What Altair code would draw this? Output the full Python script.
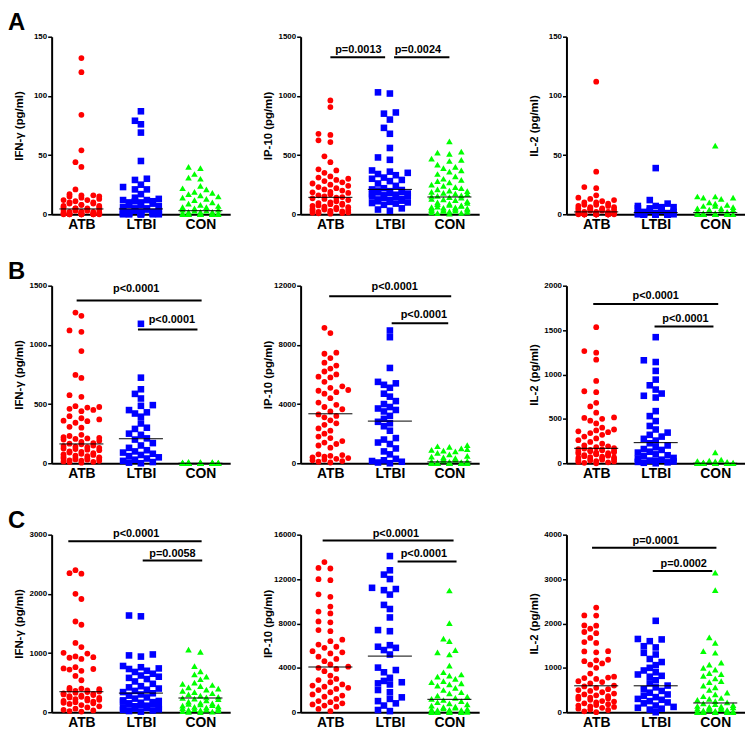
import altair as alt
import pandas as pd
import numpy as np

GROUPS = ["ATB", "LTBI", "CON"]
COLORS = ["#ff0000", "#0000ff", "#00ff00"]
SHAPES = ["circle", "square", "triangle-up"]
SIZES = [34, 44, 44]
FONT = "Liberation Sans"

# ---------------- Row A ----------------
A1_ATB = [132, 120, 84, 54, 44, 40, 21, 17, 16, 16, 15, 15, 14, 13, 12, 12, 11, 10, 10, 9, 9, 8, 8, 7, 7, 6, 6, 5, 5, 5,
          4, 4, 4, 3, 3, 3, 2, 2, 2, 2, 1.5, 1, 1, 1, 1, 0.5, 0.5, 0.5, 0.3, 0.2, 0, 0, 0, 0, 0, 0, 0, 0, 0, 0]
A1_LTBI = [87, 79, 76, 69, 45, 30, 29, 25, 23, 21, 21, 17, 14, 13, 12, 12, 11, 11, 10, 10, 9, 8, 8, 7, 6, 5, 5, 4, 4,
           3, 3, 3, 2, 2, 2, 2, 1, 1, 1, 1, 1, 1, 0.5, 0.5, 0.5, 0.3, 0.2, 0, 0, 0, 0, 0, 0]
A1_CON = [40, 39, 34, 31, 30, 24, 22, 21, 19, 18, 17, 16, 15, 14, 13, 12, 10, 9, 8, 7, 6, 6, 5, 4, 4, 3, 3, 2, 2, 2,
          1, 1, 1, 0.5, 0.5, 0.3, 0, 0, 0, 0, 0, 0, 0, 0, 0, 0, 0, 0]
A2_ATB = [962, 906, 680, 670, 625, 610, 490, 440, 380, 370, 350, 320, 310, 300, 290, 280, 270, 260, 250, 240, 230, 220,
          210, 200, 190, 185, 180, 170, 160, 150, 145, 140, 135, 130, 120, 110, 100, 95, 90, 85, 80, 75, 70, 65, 60, 55,
          50, 45, 42, 40, 35, 30, 28, 25, 20, 18, 15, 12, 10, 8, 5]
A2_LTBI = [1030, 1020, 860, 850, 800, 730, 680, 560, 480, 460, 370, 360, 350, 340, 330, 310, 300, 290, 280, 260, 240,
           220, 210, 205, 200, 195, 190, 185, 180, 175, 170, 165, 160, 155, 150, 145, 140, 130, 125, 120, 115, 110, 105,
           100, 95, 90, 80, 50, 40, 30]
A2_CON = [615, 530, 520, 510, 470, 460, 450, 420, 400, 390, 370, 360, 340, 320, 300, 290, 280, 270, 250, 240, 230, 220,
          210, 200, 195, 190, 180, 175, 170, 160, 155, 150, 145, 140, 130, 125, 120, 110, 100, 95, 90, 85, 80, 75, 70,
          65, 60, 58, 55, 50, 48, 45, 40, 38, 35, 30, 28, 25, 20, 15, 12, 10, 5]
A3_ATB = [112, 36, 23, 22, 16, 14, 13, 12, 11, 10, 10, 9, 8, 8, 7, 7, 6, 6, 5, 5, 5, 4, 4, 4, 3, 3, 3, 2, 2, 2, 2, 1, 1,
          1, 1, 0.5, 0.5, 0, 0, 0, 0, 0, 0, 0, 0, 0, 0, 0, 0, 0, 0, 0, 0, 0, 0, 0, 0, 0, 0, 0]
A3_LTBI = [39, 12, 9, 7, 7, 6, 6, 5, 5, 4, 3, 3, 2, 2, 1, 1, 1, 0.5, 0, 0, 0, 0, 0, 0, 0, 0, 0, 0, 0, 0, 0, 0, 0, 0, 0,
           0, 0, 0, 0, 0]
A3_CON = [58, 15, 15, 14, 14, 13, 10, 9, 8, 7, 7, 6, 5, 5, 4, 4, 3, 3, 2, 2, 1, 1, 0, 0, 0, 0, 0, 0, 0, 0, 0, 0, 0, 0,
          0, 0, 0, 0, 0, 0, 0, 0, 0, 0, 0, 0, 0, 0, 0, 0, 0, 0]

# ---------------- Row B ----------------
B1_ATB = [1273, 1245, 1122, 1110, 948, 746, 721, 575, 561, 482, 475, 470, 460, 450, 440, 398, 380, 370, 360, 355, 342,
          308, 300, 240, 230, 220, 215, 210, 205, 200, 190, 180, 170, 165, 160, 150, 145, 140, 135, 130, 125, 120, 115,
          110, 100, 95, 90, 85, 80, 75, 70, 65, 60, 55, 50, 45, 42, 40, 35, 32, 30, 25, 22, 20, 15, 12, 10, 5]
B1_LTBI = [1178, 723, 625, 586, 547, 491, 485, 449, 430, 420, 393, 336, 300, 290, 250, 240, 210, 200, 170, 150, 130,
           110, 100, 90, 80, 70, 60, 50, 40, 30, 20, 10, 5, 0]
B1_CON = [12, 10, 9, 8, 7, 6, 6, 5, 5, 4, 4, 3, 3, 3, 2, 2, 2, 1, 1, 1, 0, 0, 0, 0, 0, 0, 0, 0, 0, 0, 0, 0, 0, 0, 0, 0,
          0, 0, 0, 0]
B2_ATB = [9150, 8800, 7470, 7400, 7110, 6800, 6600, 6400, 6200, 6000, 5850, 5800, 5500, 5200, 5100, 4950, 4900, 4800,
          4700, 4400, 4100, 3950, 3800, 3650, 3500, 3300, 3200, 3100, 2900, 2700, 2600, 2350, 2200, 2000, 1800, 1700,
          1500, 1400, 1300, 1200, 1050, 600, 550, 500, 450, 400, 350, 300, 250, 200, 150, 100, 50]
B2_LTBI = [8970, 8520, 6440, 5500, 5400, 5300, 5100, 4700, 4500, 4200, 4000, 3800, 3700, 3600, 3500, 3200, 3000, 2800,
           2700, 2500, 2200, 1700, 1600, 1400, 1300, 1000, 800, 600, 300, 200, 150, 100, 50, 0]
B2_CON = [1230, 1150, 1100, 1010, 950, 900, 850, 800, 700, 600, 500, 450, 400, 350, 300, 250, 200, 150, 120, 100, 80,
          60, 50, 40, 30, 20, 10, 5, 0, 0, 0, 0, 0, 0, 0, 0, 0, 0, 0, 0]
B3_ATB = [1533, 1263, 1245, 1166, 927, 811, 800, 680, 640, 570, 516, 510, 500, 480, 449, 400, 380, 370, 360, 350, 340,
          320, 300, 280, 260, 240, 220, 200, 190, 180, 170, 165, 160, 155, 150, 145, 140, 135, 130, 125, 120, 115, 110,
          105, 100, 95, 90, 85, 80, 75, 70, 65, 60, 55, 50, 45, 40, 35, 30, 25, 20, 15, 10, 5, 0]
B3_LTBI = [1420, 1160, 1140, 1040, 942, 878, 830, 785, 760, 740, 587, 531, 475, 420, 380, 345, 320, 300, 275, 255, 225,
           200, 180, 160, 150, 130, 120, 100, 90, 80, 60, 50, 40, 30, 25, 20, 15, 10, 5, 0]
B3_CON = [123, 40, 30, 25, 20, 15, 10, 8, 5, 3, 2, 1, 0, 0, 0, 0, 0, 0, 0, 0, 0, 0, 0, 0, 0, 0, 0, 0, 0, 0, 0, 0, 0, 0,
          0, 0, 0]

# ---------------- Row C ----------------
C1_ATB = [2400, 2350, 2340, 2000, 1913, 1533, 1478, 1171, 1100, 1004, 990, 942, 930, 920, 900, 760, 740, 730, 720, 700,
          613, 540, 410, 400, 390, 380, 370, 360, 350, 340, 330, 320, 310, 300, 290, 280, 270, 260, 250, 240, 230, 220,
          210, 200, 190, 180, 170, 160, 150, 140, 120, 100, 80, 60, 40, 30, 20, 10]
C1_LTBI = [1634, 1620, 976, 960, 940, 781, 760, 740, 730, 700, 680, 650, 620, 600, 580, 560, 520, 480, 440, 420, 400,
           380, 360, 340, 320, 300, 280, 250, 230, 200, 190, 180, 170, 160, 150, 140, 130, 120, 110, 100, 90, 80, 70,
           60, 50, 40, 30, 20, 10]
C1_CON = [1059, 1020, 780, 690, 640, 600, 557, 500, 480, 460, 440, 420, 400, 380, 360, 340, 320, 300, 280, 260, 250,
          240, 230, 220, 200, 180, 160, 150, 140, 130, 120, 110, 100, 90, 80, 70, 60, 50, 45, 40, 35, 30, 20, 10, 5, 0]
C2_ATB = [13530, 13000, 12950, 11990, 11900, 10620, 10400, 9520, 9070, 8900, 8180, 8100, 7400, 7300, 6540, 6400, 6100,
          5900, 5800, 5500, 5400, 5300, 5000, 4800, 4600, 4300, 4100, 4000, 3900, 3700, 3300, 3000, 2900, 2700, 2500,
          2400, 2300, 2200, 2100, 2000, 1800, 1600, 1500, 1400, 1200, 1000, 900, 800, 700, 600, 500, 300, 100]
C2_LTBI = [14070, 12790, 12400, 12000, 11210, 11100, 11000, 10600, 9670, 9300, 8540, 7400, 7300, 6040, 5900, 5800,
           5600, 5200, 4020, 3800, 3600, 3100, 2820, 2700, 2600, 2500, 2000, 1800, 1340, 1200, 1000, 800, 600, 200, 100]
C2_CON = [10970, 8030, 6630, 6400, 5600, 5400, 5200, 4200, 3600, 3400, 3300, 3200, 3000, 2800, 2700, 2600, 2500, 2400,
          2200, 2000, 1800, 1700, 1500, 1400, 1300, 1200, 1100, 1000, 900, 800, 700, 600, 500, 450, 400, 350, 300, 250,
          220, 200, 180, 150, 100, 90, 80, 60, 50, 40, 20, 10, 5, 0, 0]
C3_ATB = [2357, 2180, 2178, 1955, 1950, 1880, 1807, 1780, 1673, 1580, 1560, 1375, 1370, 1350, 1182, 1170, 1150, 1100,
          1070, 1000, 870, 800, 780, 770, 750, 700, 680, 650, 600, 580, 550, 520, 500, 480, 450, 420, 400, 380, 360,
          350, 330, 310, 300, 280, 250, 240, 220, 200, 180, 160, 150, 130, 120, 100, 80, 60, 50, 20, 0]
C3_LTBI = [2059, 1650, 1640, 1600, 1487, 1460, 1338, 1300, 1200, 1130, 1060, 1000, 940, 900, 850, 820, 800, 720, 650,
           600, 560, 520, 480, 440, 400, 370, 340, 300, 280, 250, 220, 200, 150, 120, 100, 80, 60, 0]
C3_CON = [3145, 2751, 1688, 1561, 1375, 1340, 1115, 1070, 1000, 960, 880, 860, 820, 760, 700, 680, 600, 560, 500, 440,
          400, 360, 320, 300, 280, 250, 220, 200, 180, 160, 140, 130, 120, 110, 100, 90, 80, 70, 60, 50, 40, 30, 25, 20,
          15, 10, 5, 0, 0, 0, 0, 0, 0]

# medians (ATB, LTBI, CON)
MED_A1 = [4.5, 4.5, 3]
MED_A2 = [143, 210, 146]
MED_A3 = [2, 1.4, 1.4]
MED_B1 = [163, 207, 0]
MED_B2 = [3342, 2848, 90]
MED_B3 = [168, 232, 0]
MED_C1 = [346, 323, 240]
MED_C2 = [4074, 5056, 1160]
MED_C3 = [595, 595, 208]

# significance bars: (from, to, level, label, label_x, label_y)
SIG_A2 = [(0.0, 0.92, 1326, "p=0.0013", 0.47, 1390), (1.07, 2.0, 1326, "p=0.0024", 1.47, 1390)]
SIG_B1 = [(-0.08, 2.02, 1374, "p<0.0001", 0.92, 1476), (0.95, 1.95, 1130, "p<0.0001", 1.52, 1211)]
SIG_B2 = [(-0.02, 2.03, 11282, "p<0.0001", 1.08, 11933), (1.03, 1.98, 9465, "p<0.0001", 1.57, 10026)]
SIG_B3 = [(-0.05, 2.05, 1794, "p<0.0001", 1.0, 1880), (0.98, 1.97, 1540, "p<0.0001", 1.5, 1626)]
SIG_C1 = [(-0.22, 2.02, 2888, "p<0.0001", 0.92, 3005), (1.03, 2.03, 2565, "p=0.0058", 1.53, 2676)]
SIG_C2 = [(-0.13, 2.07, 15465, "p<0.0001", 1.1, 16030), (1.13, 2.12, 13591, "p<0.0001", 1.57, 14275)]
SIG_C3 = [(-0.07, 2.02, 3703, "p=0.0001", 1.0, 3866), (0.95, 1.95, 3182, "p=0.0002", 1.47, 3346)]

TICKS_150 = [0, 50, 100, 150]
TICKS_1500 = [0, 500, 1000, 1500]
TICKS_12000 = [0, 4000, 8000, 12000]
TICKS_2000 = [0, 500, 1000, 1500, 2000]
TICKS_3000 = [0, 1000, 2000, 3000]
TICKS_16000 = [0, 4000, 8000, 12000, 16000]
TICKS_4000 = [0, 1000, 2000, 3000, 4000]

W, H = 180, 179
PX_PER_GROUP = W / 3.0


def swarm(values, ymax, slot=6.0, dmin=6.5, nslots=4):
    """Deterministic dot-plot layout: horizontal offsets (px) avoiding overlaps."""
    slots = [0.0]
    for k in range(1, nslots):
        slots += [-k * slot, k * slot]
    order = sorted(range(len(values)), key=lambda i: values[i])
    placed = []
    offs = [0.0] * len(values)
    for i in order:
        yp = values[i] / ymax * H
        best, best_key = None, None
        for s in slots:
            near = [np.hypot(s - px, yp - py) for px, py in placed if abs(yp - py) < dmin]
            cnt = sum(1 for d in near if d < dmin)
            md = min(near) if near else dmin
            key = (cnt, -min(md, dmin))
            if best_key is None or key < best_key:
                best, best_key = s, key
        offs[i] = best
        placed.append((best, yp))
    return offs


def panel(vals3, ymax, ticks, ytitle, med, sig=None, letter=None, spacer=False):
    xs = alt.Scale(domain=[-0.5, 2.5], nice=False, zero=False)
    ys = alt.Scale(domain=[0, ymax], nice=False)
    xax = alt.Axis(values=[0, 1, 2],
                   labelExpr="datum.value == 0 ? 'ATB' : (datum.value == 1 ? 'LTBI' : 'CON')",
                   ticks=False, grid=False, domainWidth=2, domainColor="black",
                   labelFont=FONT, labelFontSize=14, labelFontWeight="bold", labelColor="black",
                   labelPadding=3, labelAngle=0)
    yax = alt.Axis(values=ticks, format="d", title=ytitle, grid=False, domainWidth=2, domainColor="black",
                   tickColor="black", tickWidth=1.5, tickSize=4,
                   labelFont=FONT, labelFontSize=8, labelFontWeight="bold", labelColor="black",
                   labelPadding=1, minExtent=22, maxExtent=22, titlePadding=5,
                   titleFont=FONT, titleFontSize=11.5, titleFontWeight="bold", titleColor="black")

    def X(f):
        return alt.X(f, type="quantitative", scale=xs, axis=xax, title=None)

    def Y(f):
        return alt.Y(f, type="quantitative", scale=ys, axis=yax, title=ytitle)

    layers = []
    for gi in range(3):
        vals = vals3[gi]
        offs = swarm(vals, ymax)
        df = pd.DataFrame({"x": [gi + o / PX_PER_GROUP for o in offs], "v": vals})
        layers.append(alt.Chart(df).mark_point(filled=True, shape=SHAPES[gi], color=COLORS[gi],
                                               size=SIZES[gi], opacity=1, strokeWidth=0)
                      .encode(x=X("x"), y=Y("v")))
    mdf = pd.DataFrame({"x": [g - 0.37 for g in range(3)], "x2": [g + 0.37 for g in range(3)], "v": med})
    layers.append(alt.Chart(mdf).mark_rule(color="black", strokeWidth=1)
                  .encode(x=X("x"), x2=alt.X2("x2"), y=Y("v")))
    if sig:
        sdf = pd.DataFrame({"x": [s[0] for s in sig], "x2": [s[1] for s in sig], "v": [s[2] for s in sig],
                            "t": [s[3] for s in sig], "tx": [s[4] for s in sig], "ty": [s[5] for s in sig]})
        layers.append(alt.Chart(sdf).mark_rule(color="black", strokeWidth=2)
                      .encode(x=X("x"), x2=alt.X2("x2"), y=Y("v")))
        layers.append(alt.Chart(sdf).mark_text(font=FONT, fontSize=11, fontWeight="bold", color="black",
                                               align="center", baseline="middle")
                      .encode(x=X("tx"), y=Y("ty"), text="t:N"))
    if letter:
        layers.append(alt.Chart(pd.DataFrame({"t": [letter]})).mark_text(
            font=FONT, fontSize=24, fontWeight="bold", color="black", align="left", baseline="alphabetic")
            .encode(text="t:N", x=alt.value(-44), y=alt.value(-7)))
    if spacer:
        layers.append(alt.Chart(pd.DataFrame({"a": [0]})).mark_rule(color="white", strokeWidth=1)
                      .encode(x=alt.value(-54), x2=alt.value(-53), y=alt.value(100)))
    return alt.layer(*layers).properties(width=W, height=H)


IFN = "IFN-γ (pg/ml)"
IP10 = "IP-10 (pg/ml)"
IL2 = "IL-2 (pg/ml)"

panels = [
    panel([A1_ATB, A1_LTBI, A1_CON], 150, TICKS_150, IFN, MED_A1, letter="A"),
    panel([A2_ATB, A2_LTBI, A2_CON], 1500, TICKS_1500, IP10, MED_A2, sig=SIG_A2),
    panel([A3_ATB, A3_LTBI, A3_CON], 150, TICKS_150, IL2, MED_A3, spacer=True),
    panel([B1_ATB, B1_LTBI, B1_CON], 1500, TICKS_1500, IFN, MED_B1, sig=SIG_B1, letter="B"),
    panel([B2_ATB, B2_LTBI, B2_CON], 12000, TICKS_12000, IP10, MED_B2, sig=SIG_B2),
    panel([B3_ATB, B3_LTBI, B3_CON], 2000, TICKS_2000, IL2, MED_B3, sig=SIG_B3, spacer=True),
    panel([C1_ATB, C1_LTBI, C1_CON], 3000, TICKS_3000, IFN, MED_C1, sig=SIG_C1, letter="C"),
    panel([C2_ATB, C2_LTBI, C2_CON], 16000, TICKS_16000, IP10, MED_C2, sig=SIG_C2),
    panel([C3_ATB, C3_LTBI, C3_CON], 4000, TICKS_4000, IL2, MED_C3, sig=SIG_C3, spacer=True),
]

chart = alt.concat(*panels, columns=3, spacing={"row": 29, "column": 33}, align="each").properties(
    padding=0, background="white"
).configure_view(stroke=None)

chart.save("out.html", embed_options={"renderer": "svg", "actions": False})
